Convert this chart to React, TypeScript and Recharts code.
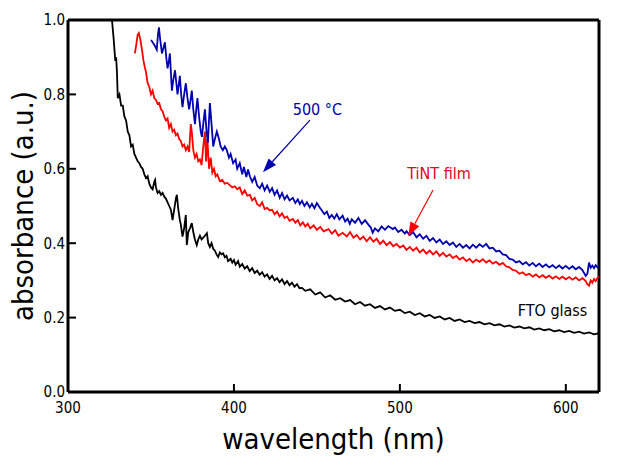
import React from "react";
import {
    LineChart,
    Line,
    XAxis,
    YAxis,
    ReferenceLine,
    ReferenceDot,
} from "recharts";

const FONT = "'DejaVu Sans Condensed', 'DejaVu Sans', sans-serif";

const xTicks = [300, 400, 500, 600];
const yTicks = [0, 0.2, 0.4, 0.6, 0.8, 1.0];

// FTO glass (black)
const ftoWavelength = [
    325, 326.5, 327.5, 328.5, 329, 329.5, 330, 331, 332, 333, 334, 335, 336, 337, 338, 339, 340, 341, 342, 343,
    344, 345, 346, 347, 348, 349, 350, 351, 352, 352.5, 353, 354, 355, 356, 357, 358, 359, 360, 361, 362,
    363, 364, 365, 365.6, 366.5, 367.4, 368, 369, 370, 371, 371.6, 372.5, 373.5, 374.6, 375.5, 376.5, 377.6, 378.5, 379.5, 380.5,
    381.5, 382.5, 383.7, 384.5, 385.5, 386.5, 387.5, 388.5, 389.5, 390.5, 391.5, 392.5, 393.5, 394.5, 395.5, 396.5, 398, 399, 400, 401,
    402.5, 403.5, 405, 406.5, 408, 409.5, 411, 412.5, 414, 415.5, 417, 418.5, 420, 421.5, 423, 424.5, 426, 427.5, 429, 430.5,
    432, 433.5, 435, 436.5, 438, 439.5, 441, 443, 446, 449, 452, 455, 458, 461, 464, 467, 470, 473, 476, 479,
    482, 485, 488, 491, 494, 497, 500, 503, 506, 509, 512, 515, 518, 521, 524, 527, 530, 533, 536, 539,
    542, 545, 548, 551, 554, 557, 560, 563, 566, 569, 572, 575, 578, 581, 584, 587, 590, 593, 596, 599,
    602, 605, 608, 611, 614, 617, 620,
];
const ftoAbsorbance = [
    1.05, 1.0, 0.95, 0.89, 0.9, 0.86, 0.79, 0.8, 0.77, 0.77, 0.74, 0.73, 0.7, 0.69, 0.66, 0.665, 0.64, 0.63, 0.62, 0.615,
    0.605, 0.6, 0.585, 0.575, 0.58, 0.56, 0.55, 0.545, 0.565, 0.57, 0.55, 0.535, 0.54, 0.53, 0.535, 0.525, 0.52, 0.51, 0.5, 0.49,
    0.462, 0.49, 0.52, 0.53, 0.49, 0.462, 0.45, 0.418, 0.44, 0.476, 0.395, 0.43, 0.44, 0.454, 0.43, 0.41, 0.395, 0.41, 0.42, 0.41,
    0.415, 0.42, 0.427, 0.4, 0.39, 0.4, 0.385, 0.38, 0.37, 0.363, 0.375, 0.37, 0.373, 0.362, 0.366, 0.352, 0.358, 0.348, 0.355, 0.342,
    0.352, 0.337, 0.344, 0.332, 0.338, 0.325, 0.333, 0.32, 0.326, 0.315, 0.322, 0.31, 0.316, 0.304, 0.312, 0.3, 0.306, 0.295, 0.303, 0.29,
    0.298, 0.287, 0.294, 0.283, 0.29, 0.279, 0.28, 0.272, 0.276, 0.262, 0.268, 0.254, 0.26, 0.248, 0.252, 0.243, 0.247, 0.236, 0.242, 0.232,
    0.236, 0.226, 0.231, 0.222, 0.227, 0.218, 0.221, 0.212, 0.216, 0.207, 0.212, 0.203, 0.207, 0.199, 0.203, 0.195, 0.199, 0.191, 0.195, 0.188,
    0.191, 0.185, 0.188, 0.182, 0.185, 0.179, 0.182, 0.176, 0.179, 0.173, 0.176, 0.171, 0.174, 0.168, 0.171, 0.166, 0.169, 0.163, 0.166, 0.161,
    0.164, 0.159, 0.162, 0.157, 0.16, 0.155, 0.158,
];

// TiNT film (red)
const tintWavelength = [
    340.3, 341, 342, 342.7, 343.5, 344.6, 345.5, 346.2, 347, 348, 349, 350, 351, 352, 353, 354, 355, 356, 357, 358,
    359, 360, 361, 362, 363, 364, 365, 366, 367, 368, 369, 370, 371, 372, 373, 374, 374.6, 375.5, 376.5, 377.5,
    378.5, 379.5, 380.5, 381.5, 382.5, 383.2, 384, 385, 386, 387, 388, 389, 390, 391.5, 393, 394.5, 396, 397.5, 399, 400.5,
    402, 403.5, 405, 406.5, 408, 409.6, 411, 412.5, 414, 415.6, 417, 418.5, 420, 421.5, 423, 424.5, 426, 427.5, 429, 430.5,
    432, 433.5, 435.5, 437, 438.5, 440, 441.5, 443, 444.5, 446, 448, 450, 452, 454, 457, 459, 461, 463, 465.5, 468,
    470, 472, 474, 476, 478, 480, 482, 484, 486, 488, 490, 492, 494, 496, 498, 500, 502, 504, 506, 508,
    510, 512, 514, 516, 518, 520, 522, 524, 526, 528, 530, 532, 534, 536, 538, 540, 542, 544, 546, 548,
    550, 552, 554, 556, 558, 560, 562, 564, 566, 568, 570, 572, 574, 576, 578, 580, 582, 584, 586, 588,
    590, 592, 594, 596, 598, 600, 602, 604, 606, 608, 610, 612, 613, 614, 615, 616, 617, 618, 619, 620,
];
const tintAbsorbance = [
    0.91, 0.93, 0.96, 0.965, 0.95, 0.92, 0.89, 0.875, 0.86, 0.83, 0.82, 0.8, 0.81, 0.79, 0.785, 0.775, 0.777, 0.76, 0.755, 0.74,
    0.73, 0.735, 0.71, 0.72, 0.7, 0.705, 0.69, 0.695, 0.68, 0.675, 0.66, 0.665, 0.65, 0.66, 0.645, 0.72, 0.7, 0.65, 0.63, 0.64,
    0.62, 0.625, 0.61, 0.66, 0.7, 0.62, 0.68, 0.6, 0.63, 0.59, 0.6, 0.58, 0.585, 0.567, 0.57, 0.56, 0.562, 0.556, 0.55, 0.553,
    0.545, 0.55, 0.532, 0.542, 0.528, 0.53, 0.515, 0.522, 0.505, 0.5, 0.51, 0.492, 0.495, 0.488, 0.49, 0.478, 0.485, 0.472, 0.48, 0.468,
    0.472, 0.46, 0.465, 0.455, 0.462, 0.448, 0.456, 0.445, 0.452, 0.44, 0.448, 0.436, 0.444, 0.432, 0.438, 0.426, 0.435, 0.42, 0.428, 0.418,
    0.43, 0.415, 0.422, 0.41, 0.418, 0.405, 0.416, 0.404, 0.412, 0.398, 0.407, 0.395, 0.403, 0.392, 0.398, 0.388, 0.394, 0.382, 0.39, 0.38,
    0.388, 0.375, 0.383, 0.372, 0.38, 0.37, 0.378, 0.366, 0.374, 0.364, 0.37, 0.36, 0.366, 0.356, 0.362, 0.352, 0.358, 0.348, 0.356, 0.35,
    0.357, 0.348, 0.354, 0.345, 0.35, 0.342, 0.347, 0.338, 0.335, 0.328, 0.326, 0.318, 0.322, 0.314, 0.318, 0.31, 0.316, 0.308, 0.314, 0.307,
    0.313, 0.305, 0.311, 0.304, 0.31, 0.303, 0.309, 0.302, 0.308, 0.3, 0.306, 0.298, 0.29, 0.286, 0.3, 0.294, 0.304, 0.298, 0.306, 0.31,
];

// 500 °C (blue)
const annealedWavelength = [
    350, 351, 352.4, 353.5, 354.2, 354.8, 355.5, 356.6, 357.5, 358.4, 359.2, 360, 360.8, 361.4, 362.6, 363.5, 364.5, 365.3, 366, 367.4,
    368.2, 369, 370, 371, 372, 373, 374, 374.6, 375.5, 376.5, 377.3, 378, 379, 380, 380.7, 381.5, 382.5, 383.5, 384.3, 385.5,
    386.5, 387.5, 388.5, 389.7, 391, 392, 393.3, 394.5, 395.7, 397, 398, 399.5, 401, 402, 403.5, 405, 406, 407.5, 408.5, 409.6,
    411, 412.5, 414, 415.6, 417, 418.5, 420, 421.6, 423, 424.5, 426, 427.6, 429, 430.5, 432, 433.5, 435.5, 437, 438.5, 439.7,
    441, 442.5, 444, 445.7, 447, 448.5, 450, 451.7, 453, 454.5, 456, 457.5, 459, 460.5, 462, 463.5, 465.5, 467, 468.5, 469.8,
    471, 473, 475, 477, 479, 481, 482.5, 483.6, 485, 487, 489, 491, 493, 495.7, 497, 499, 501, 503, 504, 506,
    508, 510, 512, 514, 516, 518, 520, 522, 524, 526, 528, 530, 532, 534, 536, 538, 540, 542, 544, 546,
    548, 550, 552, 554, 556, 558, 560, 562, 564, 566, 568, 570, 572, 574, 576, 578, 580, 582, 584, 586,
    588, 590, 592, 594, 596, 598, 600, 602, 604, 606, 608, 610, 612, 613, 614, 615, 616, 617, 618, 619, 620,
];
const annealedAbsorbance = [
    0.946, 0.94, 0.93, 0.92, 0.96, 0.98, 0.95, 0.91, 0.925, 0.94, 0.9, 0.87, 0.89, 0.91, 0.81, 0.84, 0.865, 0.83, 0.8, 0.85,
    0.8, 0.766, 0.8, 0.83, 0.79, 0.76, 0.79, 0.81, 0.76, 0.72, 0.76, 0.79, 0.74, 0.7, 0.686, 0.72, 0.76, 0.7, 0.67, 0.777,
    0.72, 0.66, 0.68, 0.7, 0.68, 0.66, 0.65, 0.66, 0.65, 0.63, 0.64, 0.615, 0.625, 0.6, 0.615, 0.585, 0.605, 0.578, 0.598, 0.58,
    0.565, 0.578, 0.555, 0.548, 0.56, 0.542, 0.555, 0.538, 0.548, 0.53, 0.542, 0.522, 0.535, 0.518, 0.528, 0.515, 0.522, 0.508, 0.518, 0.505,
    0.514, 0.5, 0.51, 0.496, 0.506, 0.494, 0.508, 0.496, 0.488, 0.478, 0.485, 0.468, 0.476, 0.466, 0.478, 0.464, 0.474, 0.458, 0.466, 0.452,
    0.464, 0.455, 0.468, 0.452, 0.462, 0.45, 0.442, 0.428, 0.44, 0.432, 0.445, 0.436, 0.446, 0.438, 0.442, 0.43, 0.436, 0.426, 0.432, 0.422,
    0.43, 0.416, 0.424, 0.412, 0.42, 0.406, 0.414, 0.402, 0.41, 0.398, 0.405, 0.395, 0.402, 0.39, 0.398, 0.388, 0.395, 0.386, 0.396, 0.388,
    0.397, 0.39, 0.398, 0.386, 0.388, 0.378, 0.38, 0.37, 0.368, 0.358, 0.356, 0.348, 0.352, 0.343, 0.349, 0.34, 0.347, 0.338, 0.345, 0.336,
    0.343, 0.335, 0.341, 0.333, 0.34, 0.332, 0.339, 0.331, 0.338, 0.33, 0.336, 0.328, 0.312, 0.318, 0.348, 0.334, 0.34, 0.333, 0.341, 0.335, 0.338,
];

const toPoints = (wl: number[], ab: number[]) => wl.map((w, i) => ({ w, a: ab[i] }));

const ftoData = toPoints(ftoWavelength, ftoAbsorbance);
const tintData = toPoints(tintWavelength, tintAbsorbance);
const annealedData = toPoints(annealedWavelength, annealedAbsorbance);

const BLUE = "#0000b0";
const RED = "#ff0000";

// line with a filled head at (x2, y2)
const Arrow = (props: any) => {
    const { x1, y1, x2, y2, stroke } = props;
    const dx = x2 - x1;
    const dy = y2 - y1;
    const len = Math.hypot(dx, dy) || 1;
    const ux = dx / len;
    const uy = dy / len;
    const hl = 14;
    const hw = 5;
    const bx = x2 - ux * hl;
    const by = y2 - uy * hl;
    const pts = `${x2},${y2} ${bx - uy * hw},${by + ux * hw} ${bx + uy * hw},${by - ux * hw}`;
    return (
        <g>
            <line x1={x1} y1={y1} x2={bx} y2={by} stroke={stroke} strokeWidth={1.2} />
            <polygon points={pts} fill={stroke} />
        </g>
    );
};

const YTitle = ({ viewBox }: any) => {
    const x = viewBox.x + 33;
    const y = viewBox.y + viewBox.height / 2;
    return (
        <text
            x={x}
            y={y}
            transform={`rotate(-90, ${x}, ${y})`}
            textAnchor="middle"
            fontSize={29}
            fontFamily={FONT}
            fill="#000"
        >
            absorbance (a.u.)
        </text>
    );
};

const tickStyle = { fill: "#000", fontSize: 15, fontFamily: FONT };

export default function App() {
    return (
        <div style={{ position: "absolute", left: 0, top: 0, background: "#fff" }}>
            <LineChart
                width={623}
                height={463}
                margin={{ top: 20, right: 24, left: 0, bottom: 0 }}
            >
                <XAxis
                    dataKey="w"
                    type="number"
                    domain={[300, 620]}
                    ticks={xTicks}
                    interval={0}
                    allowDataOverflow
                    height={71}
                    stroke="#000"
                    axisLine={{ stroke: "#000", strokeWidth: 3 }}
                    tickLine={{ stroke: "#000", strokeWidth: 2 }}
                    tickSize={-8}
                    tickMargin={18}
                    tick={tickStyle}
                    label={{
                        value: "wavelength (nm)",
                        position: "insideBottom",
                        offset: 14,
                        fontSize: 29,
                        fontFamily: FONT,
                        fill: "#000",
                    }}
                />
                <YAxis
                    type="number"
                    domain={[0, 1]}
                    ticks={yTicks}
                    interval={0}
                    allowDataOverflow
                    width={68}
                    stroke="#000"
                    axisLine={{ stroke: "#000", strokeWidth: 3 }}
                    tickLine={{ stroke: "#000", strokeWidth: 2 }}
                    tickSize={-8}
                    tickMargin={11}
                    tick={tickStyle}
                    tickFormatter={(v: number) => v.toFixed(1)}
                    label={{ content: YTitle }}
                />
                <ReferenceLine y={1} stroke="#000" strokeWidth={3} />
                <ReferenceLine x={620} stroke="#000" strokeWidth={3} />

                <Line
                    data={ftoData}
                    dataKey="a"
                    stroke="#000"
                    strokeWidth={1.8}
                    dot={false}
                    isAnimationActive={false}
                />
                <Line
                    data={tintData}
                    dataKey="a"
                    stroke={RED}
                    strokeWidth={1.8}
                    dot={false}
                    isAnimationActive={false}
                />
                <Line
                    data={annealedData}
                    dataKey="a"
                    stroke={BLUE}
                    strokeWidth={1.8}
                    dot={false}
                    isAnimationActive={false}
                />

                <ReferenceLine
                    segment={[{ x: 445.8, y: 0.731 }, { x: 417.5, y: 0.591 }]}
                    stroke={BLUE}
                    shape={Arrow}
                />
                <ReferenceLine
                    segment={[{ x: 520, y: 0.543 }, { x: 505, y: 0.419 }]}
                    stroke={RED}
                    shape={Arrow}
                />
                <ReferenceDot
                    x={450.3}
                    y={0.761}
                    r={0}
                    fill="none"
                    stroke="none"
                    label={{ value: "500 °C", position: "center", fill: BLUE, fontSize: 16, fontFamily: FONT }}
                />
                <ReferenceDot
                    x={523.6}
                    y={0.587}
                    r={0}
                    fill="none"
                    stroke="none"
                    label={{ value: "TiNT film", position: "center", fill: "#e8001c", fontSize: 16, fontFamily: FONT }}
                />
                <ReferenceDot
                    x={592}
                    y={0.219}
                    r={0}
                    fill="none"
                    stroke="none"
                    label={{ value: "FTO glass", position: "center", fill: "#000", fontSize: 16, fontFamily: FONT }}
                />
            </LineChart>
        </div>
    );
}
